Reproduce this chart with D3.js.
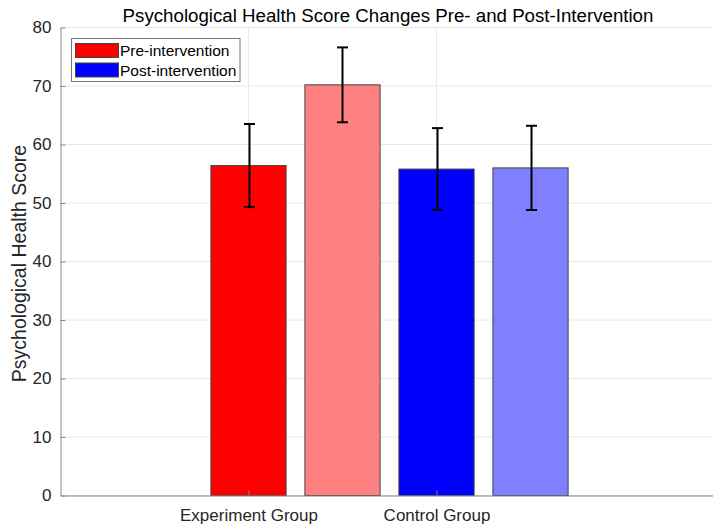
<!DOCTYPE html>
<html>
<head>
<meta charset="utf-8">
<script src="https://cdn.jsdelivr.net/npm/d3@7"></script>
<style>
  html, body { margin: 0; padding: 0; background: #fff; }
  svg text { font-family: "Liberation Sans", Arial, Helvetica, sans-serif; }
</style>
</head>
<body>
<svg id="chart" width="713" height="526"></svg>
<script>
// Group tick labels and their positions on the x axis
const groupLabels = ["Experiment Group", "Control Group"];
const groupTicks = [1, 2];

// Bars: position on the x axis, mean score, standard deviation
const barNames = ["Experiment Pre", "Experiment Post", "Control Pre", "Control Post"];
const barX = [1, 1.5, 2, 2.5];
const barMeans = [56.4, 70.2, 55.8, 56.0];
const barErrors = [7.1, 6.4, 7.0, 7.2];
const barColors = ["#ff0000", "#ff8080", "#0000ff", "#8080ff"];

// Legend entries
const legendLabels = ["Pre-intervention", "Post-intervention"];
const legendColors = ["#ff0000", "#0000ff"];

const yTicks = [0, 10, 20, 30, 40, 50, 60, 70, 80];

const svg = d3.select("#chart");
const plotLeft = 60.5, plotTop = 27.5, plotBottom = 495.5, plotRight = 718.5;

const x = d3.scaleLinear().domain([0, 3.5]).range([plotLeft, plotRight]);
const y = d3.scaleLinear().domain([0, 80]).range([plotBottom, plotTop]);
const barWidth = 0.4;

// Grid
const grid = svg.append("g");
grid.selectAll("line.h").data(yTicks).enter().append("line")
  .attr("x1", plotLeft).attr("x2", plotRight)
  .attr("y1", d => y(d)).attr("y2", d => y(d))
  .attr("stroke", "#e8e8e8").attr("stroke-width", 1);
grid.selectAll("line.v").data(groupTicks).enter().append("line")
  .attr("x1", d => x(d)).attr("x2", d => x(d))
  .attr("y1", plotTop).attr("y2", plotBottom)
  .attr("stroke", "#e8e8e8").attr("stroke-width", 1);

// Bars
const bars = barX.map((bx, i) => ({ x: bx, v: barMeans[i], e: barErrors[i], c: barColors[i], name: barNames[i] }));
svg.append("g").selectAll("rect").data(bars).enter().append("rect")
  .attr("x", d => x(d.x - barWidth / 2))
  .attr("width", d => x(d.x + barWidth / 2) - x(d.x - barWidth / 2))
  .attr("y", d => y(d.v))
  .attr("height", d => y(0) - y(d.v))
  .attr("fill", d => d.c)
  .attr("stroke", "#444").attr("stroke-width", 1);

// Error bars
const capHalf = 5.5;
const eb = svg.append("g").attr("stroke", "#000").attr("stroke-width", 2);
bars.forEach(d => {
  const cx = Math.round(x(d.x)) + 0.5;
  eb.append("line").attr("x1", cx).attr("x2", cx)
    .attr("y1", y(d.v + d.e)).attr("y2", y(d.v - d.e));
  eb.append("line").attr("x1", cx - capHalf).attr("x2", cx + capHalf)
    .attr("y1", y(d.v + d.e)).attr("y2", y(d.v + d.e));
  eb.append("line").attr("x1", cx - capHalf).attr("x2", cx + capHalf)
    .attr("y1", y(d.v - d.e)).attr("y2", y(d.v - d.e));
});

// Y axis
const yAxis = d3.axisLeft(y).tickValues(yTicks).tickSizeInner(-5).tickSizeOuter(0).tickPadding(9);
const gy = svg.append("g").attr("transform", `translate(${plotLeft},0)`).call(yAxis);
gy.select(".domain").attr("stroke", "#888");
gy.selectAll(".tick line").attr("stroke", "#888");
gy.selectAll(".tick text").attr("fill", "#262626").style("font-size", "17px");

// X axis
const xAxis = d3.axisBottom(x).tickValues(groupTicks).tickFormat((d, i) => groupLabels[i])
  .tickSizeInner(-5).tickSizeOuter(0).tickPadding(13);
const gx = svg.append("g").attr("transform", `translate(0,${plotBottom})`).call(xAxis);
gx.select(".domain").attr("stroke", "#888");
gx.selectAll(".tick line").attr("stroke", "#888");
gx.selectAll(".tick text").attr("fill", "#262626").style("font-size", "17px");

// Title and axis label
svg.append("text").attr("x", 388).attr("y", 21.5).attr("text-anchor", "middle")
  .style("font-size", "18.7px").attr("fill", "#000")
  .text("Psychological Health Score Changes Pre- and Post-Intervention");
svg.append("text").attr("transform", "translate(25.5,263.5) rotate(-90)")
  .attr("text-anchor", "middle").style("font-size", "19.5px").attr("fill", "#262626")
  .text("Psychological Health Score");

// Legend
const lg = svg.append("g");
lg.append("rect").attr("x", 71.5).attr("y", 38.5).attr("width", 168.5).attr("height", 43)
  .attr("fill", "#fff").attr("stroke", "#777").attr("stroke-width", 1);
legendLabels.forEach((lab, i) => {
  const yy = 43.5 + i * 19.5;
  lg.append("rect").attr("x", 75.5).attr("y", yy).attr("width", 43).attr("height", 14)
    .attr("fill", legendColors[i]).attr("stroke", "#444").attr("stroke-width", 1);
  lg.append("text").attr("x", 120).attr("y", yy + 12.5).style("font-size", "15.5px")
    .attr("fill", "#000").text(lab);
});
</script>
</body>
</html>
